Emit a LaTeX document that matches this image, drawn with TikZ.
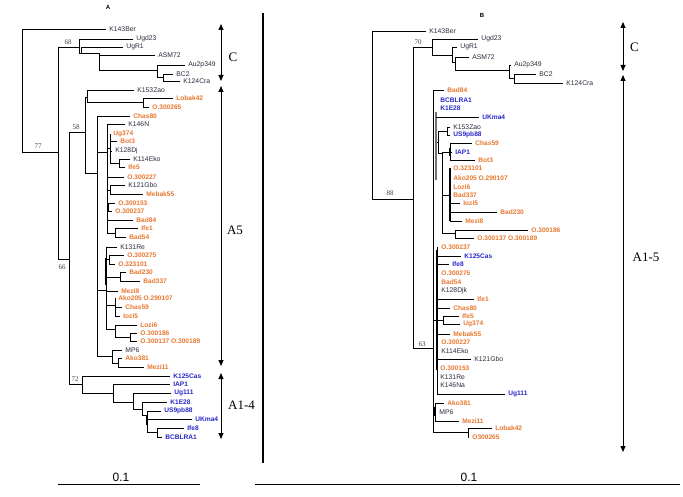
\documentclass[tikz,border=0pt]{standalone}
\usepackage{fontspec}
\setmainfont{Liberation Serif}
\newfontfamily\arialf{Liberation Sans}
\usetikzlibrary{arrows.meta}
\definecolor{lorange}{RGB}{232,119,46}
\definecolor{lblue}{RGB}{40,40,200}
\definecolor{lblack}{RGB}{40,45,60}
\tikzset{
  br/.style={draw=black, line width=0.75pt},
  thickbr/.style={draw=black, line width=1.8pt},
  graybr/.style={draw=black!55, line width=2.2pt},
  lk/.style={text=lblack, font=\arialf\fontsize{6.8}{7}\selectfont},
  lo/.style={text=lorange, font=\arialf\bfseries\fontsize{6.6}{7}\selectfont},
  lb/.style={text=lblue, font=\arialf\bfseries\fontsize{6.6}{7}\selectfont},
  boot/.style={text=black!75, font=\fontsize{7}{8}\selectfont, inner sep=0pt},
  clade/.style={font=\fontsize{13}{14}\selectfont, inner sep=0pt},
  panel/.style={font=\arialf\bfseries\fontsize{6}{7}\selectfont, inner sep=0pt},
  scaletext/.style={font=\arialf\fontsize{12}{13}\selectfont, inner sep=0pt},
  bracket/.style={line width=0.8pt, {Triangle[width=5pt,length=6pt]}-{Triangle[width=5pt,length=6pt]}},
}
\newcommand\tleaf[6]{\draw[br] (#2,#4) -- (#3,#4) node[#5, anchor=west, inner sep=0pt, xshift=3pt] (#1) {#6};}
\begin{document}
\begin{tikzpicture}[x=1pt,y=-1pt]
\useasboundingbox (0,0) rectangle (683,497);
\fill[white] (0,0) rectangle (683,497);

% ---------------- panel A ----------------
\node[panel] (pa) at (108,7) {A};
\draw[br]
 (22,29) -- (22,152) (22,152) -- (58,152) (58,47) -- (58,259)
 (58,47) -- (79,47) (79,39) -- (79,53) (81,47) -- (81,53) (79,53) -- (99,53)
 (99,53) -- (99,70) (99,70) -- (157,70) (157,65) -- (157,77) (157,77) -- (163,77) (163,74) -- (163,81)
 (58,259) -- (69,259) (69,132) -- (69,384) (69,132) -- (85,132) (85,97) -- (85,173)
 (85,97) -- (87,97) (87,90) -- (87,102) (87,102) -- (143,102) (143,98) -- (143,107)
 (85,173) -- (97,173) (97,116) -- (97,356) (97,152) -- (107,152) (107,124) -- (107,233)
 (107,148) -- (110,148) (110,134) -- (110,163) (110,163) -- (119,163) (119,159) -- (119,167)
 (107,190) -- (110,190) (110,185) -- (110,194)
 (107,207) -- (108,207) (108,203) -- (108,211)
 (107,233) -- (115,233) (115,228) -- (115,237)
 (97,290) -- (106,290) (106,247) -- (106,329)
 (106,259) -- (109,259) (109,255) -- (109,264)
 (106,277) -- (120,277) (120,272) -- (120,281)
 (106,305) -- (115,305) (115,298) -- (115,316)
 (106,329) -- (115,329) (115,325) -- (115,337) (115,337) -- (130,337) (130,333) -- (130,341)
 (97,356) -- (112,356) (112,350) -- (112,363) (112,363) -- (118,363) (118,358) -- (118,367)
 (69,384) -- (82,384) (82,376) -- (82,393) (82,393) -- (113,393) (113,384) -- (113,402)
 (113,402) -- (133,402) (133,393) -- (133,409) (133,409) -- (142,409) (142,402) -- (142,415)
 (142,415) -- (147,415) (147,411) -- (147,432) (147,432) -- (157,432) (157,428) -- (157,437);
\draw[thickbr] (106,258) -- (106,285);
\draw[br, line width=1.5pt] (147,415) -- (147,425);

\tleaf{a1}{22}{106}{29}{lk}{K143Ber}
\tleaf{a2}{79}{133}{39}{lk}{Ugd23}
\tleaf{a3}{81}{123}{47}{lk}{UgR1}
\tleaf{a4}{99}{155}{55}{lk}{ASM72}
\tleaf{a5}{157}{185}{65}{lk}{Au2p349}
\tleaf{a6}{163}{173}{74}{lk}{BC2}
\tleaf{a7}{163}{180}{81}{lk}{K124Cra}
\tleaf{a8}{87}{134}{90}{lk}{K153Zao}
\tleaf{a9}{143}{173}{98}{lo}{Lobak42}
\tleaf{a10}{143}{149}{107}{lo}{O.300265}
\tleaf{a11}{97}{130}{116}{lo}{Chas80}
\tleaf{a12}{107}{125}{124}{lk}{K146N}
\tleaf{a13}{110}{110}{134}{lo}{Ug374}
\tleaf{a14}{110}{117}{141}{lo}{Bot3}
\tleaf{a15}{110}{112}{151}{lk}{K128Dj}
\tleaf{a16}{119}{130}{159}{lk}{K114Eko}
\tleaf{a17}{119}{125}{167}{lo}{Ife5}
\tleaf{a18}{107}{124}{177}{lo}{O.300227}
\tleaf{a19}{110}{125}{185}{lk}{K121Gbo}
\tleaf{a20}{110}{143}{194}{lo}{Mebak55}
\tleaf{a21}{108}{115}{203}{lo}{O.300153}
\tleaf{a22}{108}{112}{211}{lo}{O.300237}
\tleaf{a23}{107}{133}{220}{lo}{Bad84}
\tleaf{a24}{115}{138}{228}{lo}{Ife1}
\tleaf{a25}{115}{126}{237}{lo}{Bad54}
\tleaf{a26}{106}{117}{247}{lk}{K131Re}
\tleaf{a27}{109}{124}{255}{lo}{O.300275}
\tleaf{a28}{109}{115}{264}{lo}{O.323101}
\tleaf{a29}{120}{126}{272}{lo}{Bad230}
\tleaf{a30}{120}{140}{281}{lo}{Bad337}
\tleaf{a31}{106}{118}{291}{lo}{Mezi8}
\tleaf{a32}{115}{115}{298}{lo}{Ako205 O.290107}
\tleaf{a33}{115}{122}{307}{lo}{Chas59}
\tleaf{a34}{115}{120}{316}{lo}{Iozi5}
\tleaf{a35}{115}{137}{325}{lo}{Lozi6}
\tleaf{a36}{130}{137}{333}{lo}{O.300186}
\tleaf{a37}{130}{137}{341}{lo}{O.300137 O.300189}
\tleaf{a38}{112}{122}{350}{lk}{MP6}
\tleaf{a39}{118}{122}{358}{lo}{Ako381}
\tleaf{a40}{118}{144}{367}{lo}{Mezi11}
\tleaf{a41}{82}{170}{376}{lb}{K125Cas}
\tleaf{a42}{113}{170}{384}{lb}{IAP1}
\tleaf{a43}{133}{171}{393}{lb}{Ug111}
\tleaf{a44}{142}{167}{402}{lb}{K1E28}
\tleaf{a45}{147}{161}{411}{lb}{US9pb88}
\tleaf{a46}{147}{192}{419}{lb}{UKma4}
\tleaf{a47}{157}{184}{428}{lb}{Ife8}
\tleaf{a48}{157}{162}{437}{lb}{BCBLRA1}

\node[boot] (s77) at (38,146) {77};
\node[boot] (s68) at (68,42) {68};
\node[boot] (s58) at (76,127) {58};
\node[boot] (s66) at (62,267) {66};
\node[boot] (s72) at (75,379) {72};

\coordinate (lc1) at (221,24); \coordinate (lc2) at (221,81);
\coordinate (la1) at (221,86); \coordinate (la2) at (221,366);
\coordinate (lb1) at (221,373); \coordinate (lb2) at (221,439);
\draw[bracket] (lc1) -- (lc2);
\draw[bracket] (la1) -- (la2);
\draw[bracket] (lb1) -- (lb2);
\node[clade] (tC1) at (233,57) {C};
\node[clade] (tA5) at (235,230) {A5};
\node[clade] (tA14) at (241.5,405) {A1-4};

% divider
\coordinate (d1) at (263,13); \coordinate (d2) at (263,463);
\draw[line width=2.6pt] (d1) -- (d2);

% scale bars
\coordinate (sl1) at (58,484); \coordinate (sl2) at (200,484);
\draw[line width=0.8pt] (sl1) -- (sl2);
\node[scaletext] (slt) at (121,477) {0.1};
\coordinate (sr1) at (255,484); \coordinate (sr2) at (680,484);
\draw[line width=0.8pt] (sr1) -- (sr2);
\node[scaletext] (srt) at (469,477) {0.1};

% ---------------- panel B ----------------
\node[panel] (pb) at (482,15) {B};
\draw[br]
 (372,31) -- (372,199) (372,199) -- (413,199) (413,47) -- (413,348)
 (413,47) -- (432,47) (432,39) -- (432,55) (432,55) -- (452,55) (452,47) -- (452,62)
 (452,62) -- (455,62) (455,57) -- (455,70) (455,70) -- (509,70) (509,65) -- (509,78)
 (509,78) -- (514,78) (514,74) -- (514,83)
 (413,348) -- (433,348) (433,90) -- (433,432)
 (436,142) -- (438,142) (438,131) -- (438,153) (438,131) -- (447,131) (447,127) -- (447,135)
 (438,153) -- (442,153) (442,152) -- (442,233)
 (442,152) -- (450,152) (450,143) -- (450,160)
 (442,195) -- (450,195) (450,168) -- (450,221)
 (442,233) -- (455,233) (455,230) -- (455,238)
 (433,320) -- (437,320) (437,247) -- (437,394)
 (437,320) -- (443,320) (443,316) -- (443,324)
 (433,412) -- (435,412) (435,403) -- (435,421)
 (433,432) -- (468,432) (468,428) -- (468,437);
\draw[graybr] (436,112) -- (436,180);
\draw[br, line width=1.8pt] (450,148) -- (450,156);
\draw[br, line width=1.4pt] (450,168) -- (450,221);
\draw[thickbr] (437,250) -- (437,370);
\draw[br, line width=1.6pt] (435,407) -- (435,416);

\tleaf{b1}{372}{426}{31}{lk}{K143Ber}
\tleaf{b2}{432}{478}{39}{lk}{Ugd23}
\tleaf{b3}{452}{457}{47}{lk}{UgR1}
\tleaf{b4}{455}{469}{57}{lk}{ASM72}
\tleaf{b5}{509}{511}{65}{lk}{Au2p349}
\tleaf{b6}{514}{536}{74}{lk}{BC2}
\tleaf{b7}{514}{563}{83}{lk}{K124Cra}
\tleaf{b8}{433}{444}{90}{lo}{Bad84}
\tleaf{b9}{437}{437}{100}{lb}{BCBLRA1}
\tleaf{b10}{437}{437}{108}{lb}{K1E28}
\tleaf{b11}{436}{479}{117}{lb}{UKma4}
\tleaf{b12}{447}{450}{127}{lk}{K153Zao}
\tleaf{b13}{447}{450}{135}{lb}{US9pb88}
\tleaf{b14}{450}{472}{143}{lo}{Chas59}
\tleaf{b15}{450}{452}{152}{lb}{IAP1}
\tleaf{b16}{450}{475}{160}{lo}{Bot3}
\tleaf{b17}{450}{450}{168}{lo}{O.323101}
\tleaf{b18}{450}{450}{178}{lo}{Ako205 O.290107}
\tleaf{b19}{450}{450}{187}{lo}{Lozi6}
\tleaf{b20}{450}{450}{195}{lo}{Bad337}
\tleaf{b21}{450}{460}{203}{lo}{Iozi5}
\tleaf{b22}{450}{497}{212}{lo}{Bad230}
\tleaf{b23}{450}{462}{221}{lo}{Mezi8}
\tleaf{b24}{455}{528}{230}{lo}{O.300186}
\tleaf{b25}{455}{474}{238}{lo}{O.300137 O.300189}
\tleaf{b26}{437}{438}{247}{lo}{O.300237}
\tleaf{b27}{437}{461}{256}{lb}{K125Cas}
\tleaf{b28}{437}{449}{264}{lb}{Ife8}
\tleaf{b29}{437}{438}{273}{lo}{O.300275}
\tleaf{b30}{437}{438}{282}{lo}{Bad54}
\tleaf{b31}{437}{438}{291}{lk}{K128Djk}
\tleaf{b32}{437}{474}{299}{lo}{Ife1}
\tleaf{b33}{437}{450}{308}{lo}{Chas80}
\tleaf{b34}{443}{459}{316}{lo}{Ife5}
\tleaf{b35}{443}{460}{324}{lo}{Ug374}
\tleaf{b36}{437}{450}{334}{lo}{Mebak55}
\tleaf{b37}{437}{438}{342}{lo}{O.300227}
\tleaf{b38}{437}{438}{351}{lk}{K114Eko}
\tleaf{b39}{437}{471}{359}{lk}{K121Gbo}
\tleaf{b40}{437}{437}{368}{lo}{O.300153}
\tleaf{b41}{437}{437}{377}{lk}{K131Re}
\tleaf{b42}{437}{437}{385}{lk}{K146Na}
\tleaf{b43}{437}{505}{394}{lb}{Ug111}
\tleaf{b44}{435}{444}{403}{lo}{Ako381}
\tleaf{b45}{435}{436}{412}{lk}{MP6}
\tleaf{b46}{435}{459}{421}{lo}{Mezi11}
\tleaf{b47}{468}{492}{428}{lo}{Lobak42}
\tleaf{b48}{468}{469}{437}{lo}{O300265}

\node[boot] (s88) at (390,193) {88};
\node[boot] (s70) at (418,42) {70};
\node[boot] (s63) at (422,344) {63};

\coordinate (rc1) at (623,22); \coordinate (rc2) at (623,71);
\coordinate (ra1) at (623,75); \coordinate (ra2) at (623,452);
\draw[bracket] (rc1) -- (rc2);
\draw[bracket] (ra1) -- (ra2);
\node[clade] (tC2) at (634.5,47) {C};
\node[clade] (tA15) at (646,257) {A1-5};
\end{tikzpicture}
\end{document}
